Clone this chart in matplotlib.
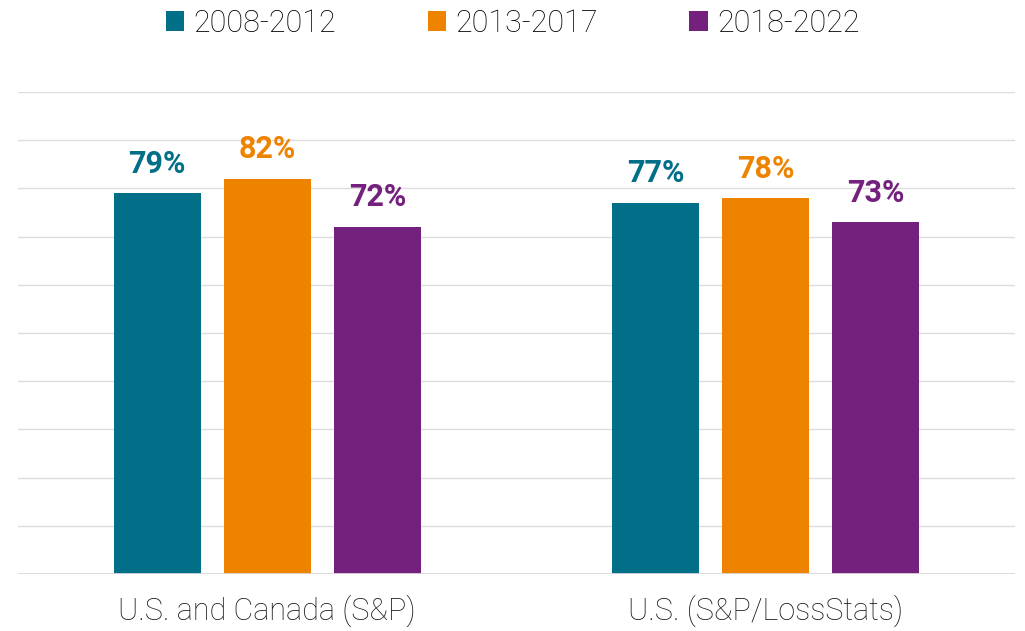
import matplotlib as mpl
import matplotlib.pyplot as plt
import numpy as np

categories = ['U.S. and Canada (S&P)', 'U.S. (S&P/LossStats)']
periods = ['2008-2012', '2013-2017', '2018-2022']
values = {
    '2008-2012': [79, 77],
    '2013-2017': [82, 78],
    '2018-2022': [72, 73],
}
COLORS = {
    '2008-2012': '#006F87',
    '2013-2017': '#EE8300',
    '2018-2022': '#74207D',
}

mpl.rcParams.update({
    'font.family': ['Roboto', 'DejaVu Sans'],
    'figure.facecolor': 'white',
    'axes.facecolor': 'white',
})

fig = plt.figure(figsize=(10.25, 6.31), dpi=100)
ax = fig.add_axes([18 / 1025, 57 / 631, 997 / 1025, 482 / 631])

x = np.arange(len(categories))
width = 0.175
step = 0.2207

for i, p in enumerate(periods):
    xs = x + (i - 1) * step
    bars = ax.bar(xs, values[p], width=width, color=COLORS[p], label=p, zorder=3)
    for b, v in zip(bars, values[p]):
        ax.text(b.get_x() + b.get_width() / 2, v + 3.0, f'{v}%',
                ha='center', va='bottom', fontsize=22, fontweight='bold',
                color=COLORS[p])

ax.set_xlim(-0.5, 1.5)
ax.set_ylim(0, 100)
ax.set_yticks(np.arange(0, 101, 10))
ax.yaxis.grid(True, color='#DDDDDD', linewidth=1.0, zorder=0)
ax.set_yticklabels([])
ax.tick_params(axis='both', length=0)
for sp in ax.spines.values():
    sp.set_visible(False)
ax.axhline(0, color='#D9D9D9', linewidth=2, zorder=4)

ax.set_xticks(x)
ax.set_xticklabels(categories, fontsize=22, fontweight='light', color='#1a1a1a')
ax.tick_params(axis='x', pad=15)

fig.legend(loc='center', bbox_to_anchor=(0.5, 0.963), ncol=3, frameon=False,
           handlelength=0.6, handleheight=0.6, handletextpad=0.3,
           columnspacing=3.0, prop={'size': 22, 'weight': 'light'})

fig.savefig('out.png', dpi=100)
